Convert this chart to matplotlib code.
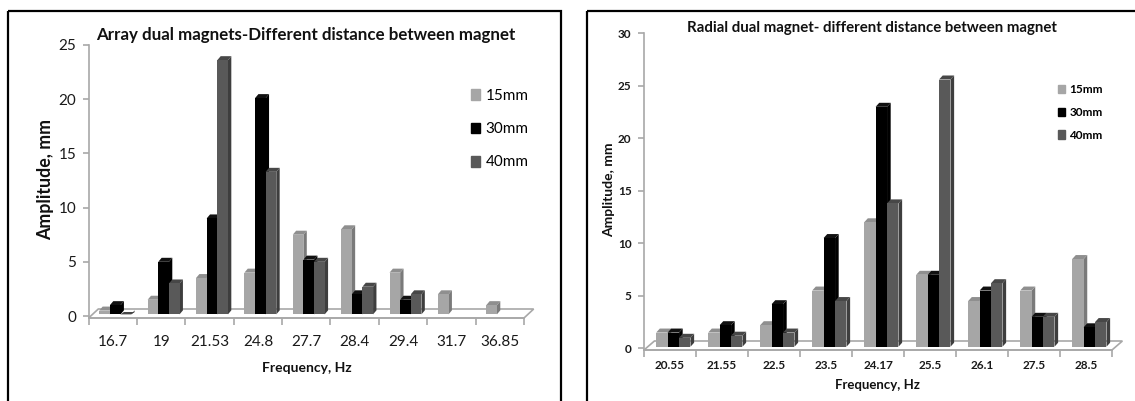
"""
Two 3D-look clustered bar charts: amplitude vs frequency for dual magnets.
"""

import matplotlib
matplotlib.use("Agg")
import matplotlib.pyplot as plt
from matplotlib.patches import Patch, Rectangle
from matplotlib.transforms import Affine2D
import numpy as np

plt.rcParams["font.family"] = ["Lato", "DejaVu Sans"]

W, H = 1135, 401

series_names = ["15mm", "30mm", "40mm"]

# NaN = nothing drawn for that bar
array_freq = ["16.7", "19", "21.53", "24.8", "27.7", "28.4", "29.4", "31.7", "36.85"]
array_15 = [0.5, 1.5, 3.5, 4, 7.5, 8, 4, 2, 1]
array_30 = [1, 5, 9, 20.1, 5.2, 2, 1.5, np.nan, np.nan]
array_40 = [0, 3, 23.6, 13.3, 5, 2.7, 2, np.nan, np.nan]

radial_freq = ["20.55", "21.55", "22.5", "23.5", "24.17", "25.5", "26.1", "27.5", "28.5"]
radial_15 = [1.5, 1.5, 2.2, 5.5, 12, 7, 4.5, 5.5, 8.5]
radial_30 = [1.5, 2.2, 4.2, 10.5, 23, 7, 5.5, 3, 2]
radial_40 = [1, 1.2, 1.5, 4.5, 13.8, 25.6, 6.2, 3, 2.5]

FRONT = ["#A6A6A6", "#000000", "#595959"]
SIDE = ["#7A7A7A", "#000000", "#3E3E3E"]
TOP = ["#8F8F8F", "#111111", "#474747"]
AXIS_COL = "#A8A8A8"


def draw_panel(fig, px, box, ymax, freqs, series, title, title_xy, xlab_xy, ylab_xy,
               legend_xy, spacing, fs, weight, title_fs, xlab_fs, ylab_fs, xtick_y, bar_start):
    left, right, top, bottom, zero = box
    ax = fig.add_axes([left / W, 1 - bottom / H, (right - left) / W, (bottom - top) / H])
    unit = (zero - top) / ymax
    ymin = -(bottom - zero) / unit
    ax.set_xlim(0, len(freqs))
    ax.set_ylim(ymin, ymax)

    dx, dy = 0.07, 4 / unit
    w = 0.22
    base = 0.15

    # floor
    ax.fill([0, 9, 9 + 0.2, 0.2], [ymin, ymin, ymin + 9 / unit, ymin + 9 / unit],
            facecolor="white", edgecolor=AXIS_COL, lw=1.2, clip_on=False, zorder=1)

    for s, vals in enumerate(series):
        for i, v in enumerate(vals):
            if np.isnan(v):
                continue
            x0 = i + bar_start + s * w
            ax.fill([x0 + w, x0 + w + dx, x0 + w + dx, x0 + w],
                    [base, base + dy, v + dy, max(v, base)],
                    color=SIDE[s], lw=0, clip_on=False, zorder=2 + s)
            ax.fill([x0, x0 + w, x0 + w + dx, x0 + dx],
                    [max(v, base), max(v, base), v + dy, v + dy],
                    color=TOP[s], lw=0, clip_on=False, zorder=2 + s)
            ax.bar(x0, max(v - base, 0), w, bottom=base, align="edge",
                   color=FRONT[s], lw=0, zorder=2 + s)

    for name in ["top", "right"]:
        ax.spines[name].set_visible(False)
    for name in ["left", "bottom"]:
        ax.spines[name].set_color(AXIS_COL)
        ax.spines[name].set_linewidth(1.2)

    ax.set_yticks(np.arange(0, ymax + 1, 5))
    ax.set_xticks(np.arange(len(freqs) + 1))
    ax.set_xticklabels([])
    ax.set_xticks(np.arange(len(freqs)) + 0.5, minor=True)
    ax.set_xticklabels(freqs, minor=True, fontsize=fs, fontweight=weight, color="#1a1a1a")
    ax.tick_params(axis="x", which="major", length=5, color=AXIS_COL, width=1.2)
    ax.tick_params(axis="x", which="minor", length=0, pad=xtick_y)
    ax.tick_params(axis="y", length=4, color=AXIS_COL, width=1.2, pad=5)
    for lab in ax.get_yticklabels():
        lab.set_fontsize(fs)
        lab.set_fontweight(weight)
        lab.set_color("#1a1a1a")

    ax.set_title(title, x=(title_xy[0] - left) / (right - left),
                 y=(bottom - title_xy[1]) / (bottom - top), va="center", pad=0,
                 fontsize=title_fs, fontweight="bold", color="#111111")
    ax.set_xlabel("Frequency, Hz", fontsize=xlab_fs, fontweight="bold", color="#111111", va="center")
    ax.xaxis.set_label_coords(xlab_xy[0], xlab_xy[1], transform=px)
    ax.set_ylabel("Amplitude, mm", fontsize=ylab_fs, fontweight="bold", color="#111111", va="center")
    ax.yaxis.set_label_coords(ylab_xy[0], ylab_xy[1], transform=px)

    handles = [Patch(color=c, label=n) for c, n in zip(FRONT, series_names)]
    ax.legend(handles=handles, loc="upper left", bbox_to_anchor=legend_xy, bbox_transform=px,
              frameon=False, handlelength=0.62, handleheight=0.7, handletextpad=0.33,
              labelspacing=spacing, borderaxespad=0, borderpad=0,
              prop={"size": fs, "weight": weight})
    return ax


fig = plt.figure(figsize=(W / 100, H / 100), dpi=100, facecolor="white")
px = Affine2D().scale(1 / W, -1 / H).translate(0, 1) + fig.transFigure

# panel frames, open at the page edges
for x0, x1 in [(8, 561), (587, W + 20)]:
    fig.add_artist(Rectangle((x0, 11), x1 - x0, H + 20, transform=px, fill=False,
                             edgecolor="black", lw=1.6))

draw_panel(fig, px, (88.6, 524, 45, 318, 316), 25, array_freq, [array_15, array_30, array_40],
           "Array dual magnets-Different distance between magnet",
           (306, 35), (307, 368), (46, 180), (471, 89), 1.26, 11, "normal", 12.2, 10, 12.8,
           12, 0.22)

draw_panel(fig, px, (644, 1112, 33.3, 350, 348.3), 30, radial_freq, [radial_15, radial_30, radial_40],
           "Radial dual magnet- different distance between magnet",
           (872, 28), (877, 385), (609, 190), (1058, 84), 1.0, 8.5, "bold", 10.8, 9.5, 10,
           7.5, 0.234)

plt.savefig("out.png", dpi=100)
